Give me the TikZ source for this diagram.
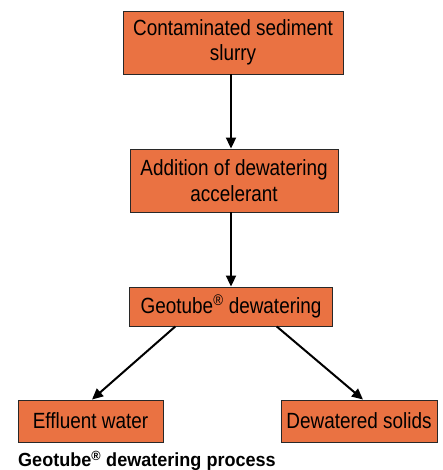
\documentclass[tikz,border=0pt]{standalone}
\usepackage{fontspec}
\setmainfont{Liberation Sans}[FakeStretch=0.86]
\newfontfamily\capfont{Liberation Sans}[FakeStretch=0.95]
\usetikzlibrary{arrows.meta,calc}
\definecolor{boxfill}{RGB}{234,114,66}
\definecolor{boxline}{RGB}{40,40,40}
\begin{document}
\begin{tikzpicture}[x=1pt,y=-1pt,
  procbox/.style={draw=boxline,line width=0.9pt,fill=boxfill,inner sep=0pt,
    align=center,font=\fontsize{22}{25.5}\selectfont},
  flow/.style={line width=2pt,-{Triangle[length=11pt,width=10pt]}}]
\useasboundingbox (0,0) rectangle (442,470);
\node[procbox,minimum width=220pt,minimum height=63pt] (b1) at (233,42.5) {Contaminated sediment\\slurry};
\node[procbox,minimum width=208pt,minimum height=63pt] (b2) at (234,180.5) {Addition of dewatering\\accelerant};
\node[procbox,minimum width=203pt,minimum height=39pt] (b3) at (231,306.5) {Geotube\textsuperscript{®} dewatering};
\node[procbox,minimum width=145pt,minimum height=42pt] (b4) at (90.5,421) {Effluent water};
\node[procbox,minimum width=156pt,minimum height=42pt] (b5) at (359,421) {Dewatered solids};
\node[anchor=base west,inner sep=0pt,font=\capfont\bfseries\fontsize{19}{22}\selectfont] (cap) at (18,466.5) {Geotube\textsuperscript{®} dewatering process};
\draw[flow] (b1.south -| b3) -- (b2.north -| b3);
\draw[flow] (b2.south -| b3) -- (b3.north);
\draw[flow] ($(b3.south west)!0.227!(b3.south east)$) -- ($(b4.north)+(1.5,0)$);
\draw[flow] ($(b3.south west)!0.724!(b3.south east)$) -- ($(b5.north)+(4,0)$);
\end{tikzpicture}
\end{document}
